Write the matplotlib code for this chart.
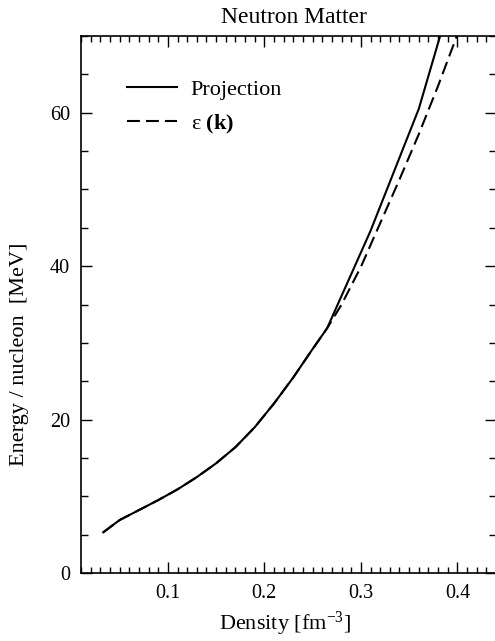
import numpy as np
import matplotlib
matplotlib.use('Agg')
import matplotlib.pyplot as plt
from matplotlib.ticker import MultipleLocator

plt.rcParams['font.family'] = 'Liberation Serif'
plt.rcParams['mathtext.fontset'] = 'custom'
plt.rcParams['mathtext.rm'] = 'Liberation Serif'
plt.rcParams['mathtext.it'] = 'Liberation Serif:italic'
plt.rcParams['mathtext.bf'] = 'Liberation Serif:bold'

# common low-density part
dens_low = [0.033, 0.05, 0.07, 0.09, 0.11, 0.13, 0.15, 0.17, 0.19, 0.21, 0.23, 0.25, 0.265]
e_low = [5.3, 6.9, 8.2, 9.5, 10.9, 12.5, 14.3, 16.4, 19.0, 22.1, 25.5, 29.2, 31.9]

# projection (solid)
dens_proj = dens_low + [0.31, 0.36, 0.41]
e_proj = e_low + [44.6, 60.5, 82.0]

# eps(k) (dashed)
dens_eps = dens_low + [0.28, 0.30, 0.32, 0.34, 0.36, 0.38, 0.40, 0.42]
e_eps = e_low + [35.0, 39.9, 45.6, 51.3, 57.2, 63.5, 70.2, 77.0]

W, H = 495, 641
fig = plt.figure(figsize=(W/100., H/100.), dpi=100)
ax = fig.add_axes([81./W, (H-573.)/H, 415./W, 537./H])

ax.plot(dens_proj, e_proj, 'k-', lw=1.5, label='Projection')
ax.plot(dens_eps, e_eps, 'k--', lw=1.5, dashes=(6.2, 2.9), label=r'ε $\mathbf{(k)}$')

ax.set_xlim(0.01, 0.44)
ax.set_ylim(0, 70)
ax.xaxis.set_major_locator(MultipleLocator(0.1))
ax.xaxis.set_minor_locator(MultipleLocator(0.01))
ax.yaxis.set_major_locator(MultipleLocator(20))
ax.yaxis.set_minor_locator(MultipleLocator(5))
ax.set_xticks([0.1, 0.2, 0.3, 0.4])
ax.set_xticklabels(['0.1', '0.2', '0.3', '0.4'])
ax.tick_params(which='both', direction='in', top=True, right=True, labelsize=14.5, width=1)
ax.tick_params(which='major', length=8)
ax.tick_params(axis='x', which='minor', length=4)
ax.tick_params(axis='y', which='minor', length=5)
ax.tick_params(axis='x', pad=8)
ax.tick_params(axis='y', pad=8)
for s in ax.spines.values():
    s.set_linewidth(1.2)

fig.text(294./W, 1-23./H, 'Neutron Matter', ha='center', va='baseline', fontsize=17)
fig.text(285./W, 1-624./H, r'Density [fm$^{\mathrm{-3}}$]', ha='center', va='center', fontsize=16)
fig.text(20./W, 1-354./H, 'Energy / nucleon  [MeV]', ha='center', va='center',
         rotation=90, fontsize=16)

leg = ax.legend(loc='upper left', bbox_to_anchor=(0.09, 0.936), frameon=False,
                fontsize=16, handlelength=2.25, handletextpad=0.6, labelspacing=0.58,
                borderaxespad=0)

fig.savefig('out.png', dpi=100)
